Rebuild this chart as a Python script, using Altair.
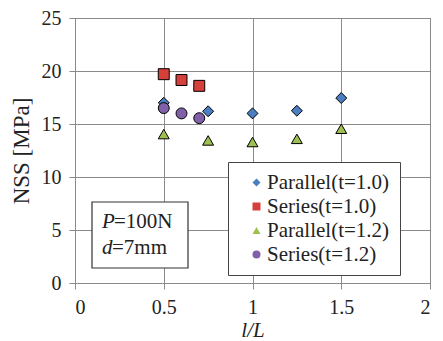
import altair as alt
import pandas as pd

series_names = ["Parallel(t=1.0)", "Series(t=1.0)", "Parallel(t=1.2)", "Series(t=1.2)"]
shapes = ["diamond", "square", "triangle-up", "circle"]
colors = ["#4A7EC0", "#D6403B", "#9DC050", "#8060A8"]

par10_x = [0.5, 0.75, 1.0, 1.25, 1.5]
par10_y = [17.0, 16.2, 16.0, 16.25, 17.45]
ser10_x = [0.5, 0.6, 0.7]
ser10_y = [19.7, 19.15, 18.6]
par12_x = [0.5, 0.75, 1.0, 1.25, 1.5]
par12_y = [14.05, 13.45, 13.3, 13.6, 14.55]
ser12_x = [0.5, 0.6, 0.7]
ser12_y = [16.5, 16.0, 15.55]

x_ticks = [0, 0.5, 1, 1.5, 2]
y_ticks = [0, 5, 10, 15, 20, 25]

rows = []
for name, xs, ys in zip(series_names,
                        [par10_x, ser10_x, par12_x, ser12_x],
                        [par10_y, ser10_y, par12_y, ser12_y]):
    for xv, yv in zip(xs, ys):
        rows.append({"series": name, "lL": xv, "nss": yv})
df = pd.DataFrame(rows)

FONT = "Liberation Serif"

legend_kw = dict(title=None, orient="none", legendX=153, legendY=144,
                 labelFont=FONT, labelFontSize=21, labelColor="#222",
                 fillColor="white", strokeColor="#444444", padding=10,
                 symbolSize=64, symbolStrokeWidth=0, symbolOffset=8, labelOffset=0,
                 rowPadding=2, symbolOpacity=1)

points = alt.Chart(df).mark_point(
    filled=True, size=120, stroke="black", strokeWidth=1, opacity=1
).encode(
    x=alt.X("lL:Q", scale=alt.Scale(domain=[0, 2], nice=False),
            axis=alt.Axis(values=x_ticks, title="l/L", format="~g",
                          titleFontStyle="italic", titlePadding=2)),
    y=alt.Y("nss:Q", scale=alt.Scale(domain=[0, 25], nice=False),
            axis=alt.Axis(values=y_ticks, title="NSS [MPa]", titlePadding=8,
                          titleFontSize=23)),
    color=alt.Color("series:N", scale=alt.Scale(domain=series_names, range=colors),
                    legend=alt.Legend(**legend_kw)),
    shape=alt.Shape("series:N", scale=alt.Scale(domain=series_names, range=shapes),
                    legend=alt.Legend(**legend_kw)),
    order=alt.Order("ord:Q"),
).transform_calculate(
    ord="indexof(['Parallel(t=1.0)','Series(t=1.0)','Parallel(t=1.2)','Series(t=1.2)'], datum.series)"
)

box = alt.Chart(pd.DataFrame({"a": [0]})).mark_rect(
    fill="white", stroke="#333333", strokeWidth=1.2
).encode(x=alt.value(17), x2=alt.value(113), y=alt.value(184), y2=alt.value(250))

ann_df = pd.DataFrame({"a": [0]})
t1 = alt.Chart(ann_df).mark_text(font=FONT, fontSize=21, fontStyle="italic", align="left",
                                 baseline="middle", text="P", color="#222").encode(
    x=alt.value(27), y=alt.value(204))
t2 = alt.Chart(ann_df).mark_text(font=FONT, fontSize=21, align="left",
                                 baseline="middle", text="=100N", color="#222").encode(
    x=alt.value(39), y=alt.value(204))
t3 = alt.Chart(ann_df).mark_text(font=FONT, fontSize=21, fontStyle="italic", align="left",
                                 baseline="middle", text="d", color="#222").encode(
    x=alt.value(27), y=alt.value(230))
t4 = alt.Chart(ann_df).mark_text(font=FONT, fontSize=21, align="left",
                                 baseline="middle", text="=7mm", color="#222").encode(
    x=alt.value(37), y=alt.value(230))

chart = alt.layer(points, box, t1, t2, t3, t4).resolve_scale(
    color="shared", shape="shared"
).properties(
    width=355, height=265,
    autosize=alt.AutoSizeParams(type="none"),
    padding={"left": 75, "top": 18, "right": 13, "bottom": 58},
    background="white",
).configure(
    font=FONT
).configure_view(
    stroke="#888888", strokeWidth=1
).configure_axis(
    labelFont=FONT, titleFont=FONT, labelFontSize=20, titleFontSize=21,
    labelColor="#222", titleColor="#222", titleFontWeight="normal",
    gridColor="#8a8a8a", gridWidth=1, gridOpacity=1,
    domainColor="#8a8a8a", tickColor="#8a8a8a", tickSize=6, labelPadding=8,
).configure_legend(
    labelFont=FONT, labelFontSize=21, labelColor="#222",
)

chart.save("out.html", embed_options={"renderer": "svg", "actions": False})
